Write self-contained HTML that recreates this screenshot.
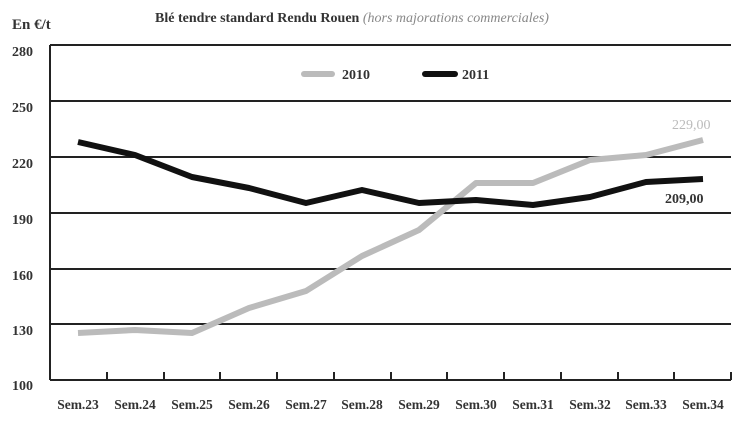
<!DOCTYPE html><html><head><style>body{margin:0;background:#fff}svg{display:block}</style></head><body>
<svg width="747" height="426" xmlns="http://www.w3.org/2000/svg" font-family="Liberation Serif, serif">
<rect width="747" height="426" fill="#fff"/>
<text x="12" y="29" font-size="15" font-weight="bold" fill="#333">En €/t</text>
<text x="155" y="22" font-size="14" font-weight="bold" fill="#333">Blé tendre standard Rendu Rouen <tspan font-weight="normal" font-style="italic" fill="#888">(hors majorations commerciales)</tspan></text>
<g stroke="#222" stroke-width="2">
<line x1="50" y1="45" x2="731" y2="45"/><line x1="50" y1="101" x2="731" y2="101"/><line x1="50" y1="157" x2="731" y2="157"/><line x1="50" y1="213" x2="731" y2="213"/><line x1="50" y1="269" x2="731" y2="269"/><line x1="50" y1="324" x2="731" y2="324"/>
<line x1="50" y1="380" x2="731" y2="380"/><line x1="50" y1="45" x2="50" y2="380"/>
<path d="M107 372V380M164 372V380M220 372V380M277 372V380M334 372V380M391 372V380M447 372V380M504 372V380M561 372V380M618 372V380M674 372V380M731 372V380"/>
</g>
<g font-size="14" font-weight="bold" fill="#333">
<text x="12" y="56">280</text><text x="12" y="112">250</text><text x="12" y="168">220</text><text x="12" y="224">190</text><text x="12" y="280">160</text><text x="12" y="335">130</text><text x="12" y="390">100</text>
<g text-anchor="middle" font-size="13.5"><text x="78" y="409">Sem.23</text><text x="135" y="409">Sem.24</text><text x="192" y="409">Sem.25</text><text x="249" y="409">Sem.26</text><text x="306" y="409">Sem.27</text><text x="362" y="409">Sem.28</text><text x="419" y="409">Sem.29</text><text x="476" y="409">Sem.30</text><text x="533" y="409">Sem.31</text><text x="590" y="409">Sem.32</text><text x="646" y="409">Sem.33</text><text x="703" y="409">Sem.34</text></g>
<text x="342" y="79">2010</text><text x="462" y="79">2011</text>
<text x="665" y="203">209,00</text>
</g>
<text x="672" y="129" font-size="14" fill="#bbb">229,00</text>
<line x1="304" y1="74" x2="332" y2="74" stroke="#bbb" stroke-width="6" stroke-linecap="round"/>
<line x1="425" y1="74" x2="455" y2="74" stroke="#111" stroke-width="6" stroke-linecap="round"/>
<polyline fill="none" stroke="#bbb" stroke-width="6" stroke-linejoin="round" points="78,333 135,330 192,333 249,308 306,291 362,256 419,230 476,183 533,183 590,160 646,155 703,140"/>
<polyline fill="none" stroke="#111" stroke-width="6" stroke-linejoin="round" points="78,142 135,155 192,177 249,188 306,203 362,190 419,203 476,200 533,205 590,197 646,182 703,179"/>
</svg></body></html>
